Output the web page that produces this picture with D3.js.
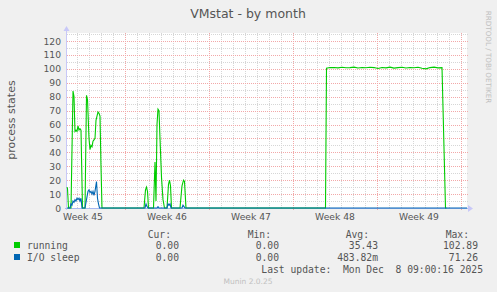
<!DOCTYPE html>
<html><head><meta charset="utf-8">
<script src="https://cdn.jsdelivr.net/npm/d3@7"></script>
<style>
html,body{margin:0;padding:0;background:#f0f0f0;}
svg{display:block;}
</style></head>
<body>
<svg id="chart" width="497" height="292"></svg>
<script>
// ---- data (time in days since 2025-11-01 00:00 UTC) ----
const runningT = [4.167,4.208,4.292,4.5,4.667,4.75,4.833,4.917,5.0,5.083,5.167,5.25,5.333,5.458,5.667,5.792,5.875,6.0,6.083,6.167,6.25,6.333,6.417,6.5,6.583,6.667,6.75,6.833,6.917,7.0,7.083,
  10.583,10.708,10.792,10.875,10.958,11.375,11.5,11.583,11.667,11.75,11.833,11.917,12.042,12.167,12.292,12.5,12.625,12.708,12.792,12.875,13.583,13.75,13.875,13.958,14.083,
  25.708,25.792,26.083,26.417,26.75,27.083,27.417,27.75,28.083,28.417,28.75,29.083,29.417,29.75,30.083,30.417,30.75,31.083,31.417,31.75,32.083,32.417,32.75,33.083,33.417,33.75,34.083,34.417,34.75,35.083,35.417,35.708,35.792,37.5];
const runningV = [15,14,0,0,84,80,55,56,55,59,56,57,56,0,0,81,78,50,42,45,44,48,49,50,63,66,69,68,66,30,0,
  0,13,15,12,0,0,33,5,60,71,70,50,22,6,0,0,17,20,16,0,0,16,20,19,0,
  0,100.4,100.9,101.0,100.7,101.1,100.8,100.9,101.2,100.6,101.0,100.8,101.1,100.9,100.3,101.0,100.7,101.2,100.5,100.9,101.1,100.6,101.0,100.8,101.1,100.4,100.0,100.9,101.2,100.7,100.9,0,0];
const ioT = [4.167,4.417,4.5,4.583,4.667,4.75,4.833,4.917,5.0,5.083,5.167,5.25,5.333,5.417,5.667,5.75,5.833,5.917,6.0,6.083,6.167,6.25,6.333,6.417,6.5,6.625,6.708,6.792,6.875,
  10.667,10.75,10.833,10.917,11.667,11.75,11.833,12.5,12.583,12.667,12.75,12.833,13.75,13.833,13.917,14.0,37.5];
const ioV = [0,0,3,2,5,4,6,5,7,6,7,5,7,0,0,4,8,12,13,11,12,10,12,9,12,19,7,3,0,
  0,3,1,0,0,1,0,0,3,2,3,0,0,2,1,0,0];
const weekLabels = ["Week 45","Week 46","Week 47","Week 48","Week 49"];
const yTicks = [0,10,20,30,40,50,60,70,80,90,100,110,120];
const seriesNames = ["running","I/O sleep"];
const seriesColors = ["#00cc00","#0066b3"];
const curVals = ["0.00","0.00"];
const minVals = ["0.00","0.00"];
const avgVals = ["35.43","483.82m"];
const maxVals = ["102.89","71.26"];
const title = "VMstat - by month";
const yTitle = "process states";
const lastUpdate = "Last update:  Mon Dec  8 09:00:16 2025";

// ---- layout ----
const svg = d3.select("#chart");
const L = 67, R = 467, T = 33, B = 208;
const base = Date.UTC(2025,10,1);
const toDate = d => new Date(base + d*86400000);
const x = d3.scaleUtc().domain([toDate(4.1667), toDate(37.5)]).range([L, R]);
const y = d3.scaleLinear().domain([0, 125.75]).range([B, T]);
const sans = "DejaVu Sans, sans-serif", mono = "DejaVu Sans Mono, monospace";
const txt = "#555555";

svg.append("rect").attr("x",0).attr("y",0).attr("width",497).attr("height",292).attr("fill","#f0f0f0");
svg.append("rect").attr("x",L).attr("y",T).attr("width",R-L).attr("height",B-T).attr("fill","#ffffff");

const g = svg.append("g");
const px = v => Math.round(v) + 0.5;
const minorC = "#d6d6d6", majorC = "#f2a8a8";
// minor horizontal grid (every 5)
d3.range(5, 126, 5).filter(v => v % 10 !== 0).forEach(v => {
  g.append("line").attr("x1",L).attr("x2",R+1).attr("y1",px(y(v))).attr("y2",px(y(v)))
   .attr("stroke",minorC).attr("stroke-dasharray","1,1");
});
// minor vertical grid (every day)
const days = d3.utcDay.range(toDate(4.2), toDate(37.6));
days.forEach(dd => {
  const xv = px(x(dd));
  g.append("line").attr("x1",xv).attr("x2",xv).attr("y1",T).attr("y2",B)
   .attr("stroke",minorC).attr("stroke-dasharray","1,1");
});
// major horizontal grid
yTicks.filter(v => v > 0).forEach(v => {
  g.append("line").attr("x1",L).attr("x2",R+1).attr("y1",px(y(v))).attr("y2",px(y(v)))
   .attr("stroke",majorC).attr("stroke-dasharray","1,1");
});
// major vertical grid (week boundaries)
const weeks = d3.utcMonday.range(toDate(4.2), toDate(37.6));
weeks.forEach(dd => {
  const xv = px(x(dd));
  g.append("line").attr("x1",xv).attr("x2",xv).attr("y1",T).attr("y2",B+2)
   .attr("stroke",majorC).attr("stroke-dasharray","1,1");
});

// y tick labels
yTicks.forEach(v => {
  svg.append("text").attr("x",61).attr("y",y(v)+3.5).attr("text-anchor","end")
    .attr("font-family",sans).attr("font-size","9.2px").attr("fill",txt).text(v);
});
// week labels at week midpoints
const weekStarts = [toDate(2)].concat(weeks);
weekLabels.forEach((lab,i) => {
  const mid = new Date(+weekStarts[i] + 3.5*86400000);
  svg.append("text").attr("x",x(mid)).attr("y",220).attr("text-anchor","middle")
    .attr("font-family",sans).attr("font-size","9.2px").attr("fill",txt).text(lab);
});

// axes
svg.append("line").attr("x1",66.5).attr("x2",66.5).attr("y1",30).attr("y2",B+2).attr("stroke","#c8c8f8");
svg.append("line").attr("x1",L-2).attr("x2",469).attr("y1",B+0.5).attr("y2",B+0.5).attr("stroke","#a8b8f0");
svg.append("path").attr("d","M63.5,31 L66.5,26 L69.5,31 Z").attr("fill","#c8c8f8");
svg.append("path").attr("d","M468,205 L473,208.5 L468,212 Z").attr("fill","#c8c8f8");

// series
const mk = (ts, vs) => ts.map((t,i) => [toDate(t), vs[i]]);
const line = d3.line().x(d => x(d[0])).y(d => y(d[1]));
svg.append("path").datum(mk(runningT, runningV)).attr("d", line)
  .attr("fill","none").attr("stroke",seriesColors[0]).attr("stroke-width",1.1);
svg.append("path").datum(mk(ioT, ioV)).attr("d", line)
  .attr("fill","none").attr("stroke",seriesColors[1]).attr("stroke-width",1.1);

// titles
svg.append("text").attr("x",248).attr("y",18).attr("text-anchor","middle")
  .attr("font-family",sans).attr("font-size","12.5px").attr("fill",txt).text(title);
svg.append("text").attr("transform","translate(15,120) rotate(-90)").attr("text-anchor","middle")
  .attr("font-family",sans).attr("font-size","11px").attr("fill",txt).text(yTitle);
svg.append("text").attr("transform","translate(486,57) rotate(90)").attr("text-anchor","middle")
  .attr("font-family",sans).attr("font-size","7.2px").attr("fill","#c0c0c0").text("RRDTOOL / TOBI OETIKER");

// legend
const lf = "9.7px";
const hdrY = 238, rowY = [249, 261];
[["Cur:",171],["Min:",271],["Avg:",369],["Max:",469]].forEach(([t,xr]) => {
  svg.append("text").attr("x",xr).attr("y",hdrY).attr("text-anchor","end")
    .attr("font-family",mono).attr("font-size",lf).attr("fill",txt).text(t);
});
seriesNames.forEach((n,i) => {
  svg.append("rect").attr("x",14).attr("y",rowY[i]-7).attr("width",6).attr("height",6).attr("fill",seriesColors[i]);
  svg.append("text").attr("x",27).attr("y",rowY[i]).attr("font-family",mono).attr("font-size",lf).attr("fill",txt).text(n);
  [[curVals,179],[minVals,279],[avgVals,378],[maxVals,478]].forEach(([arr,xr]) => {
    svg.append("text").attr("x",xr).attr("y",rowY[i]).attr("text-anchor","end")
      .attr("font-family",mono).attr("font-size",lf).attr("fill",txt).text(arr[i]);
  });
});
svg.append("text").attr("x",483).attr("y",273).attr("text-anchor","end")
  .attr("font-family",mono).attr("font-size",lf).attr("fill",txt).style("white-space","pre").text(lastUpdate);
svg.append("text").attr("x",248).attr("y",284).attr("text-anchor","middle")
  .attr("font-family",sans).attr("font-size","7.5px").attr("fill","#c0c0c0").text("Munin 2.0.25");
</script>
</body></html>
